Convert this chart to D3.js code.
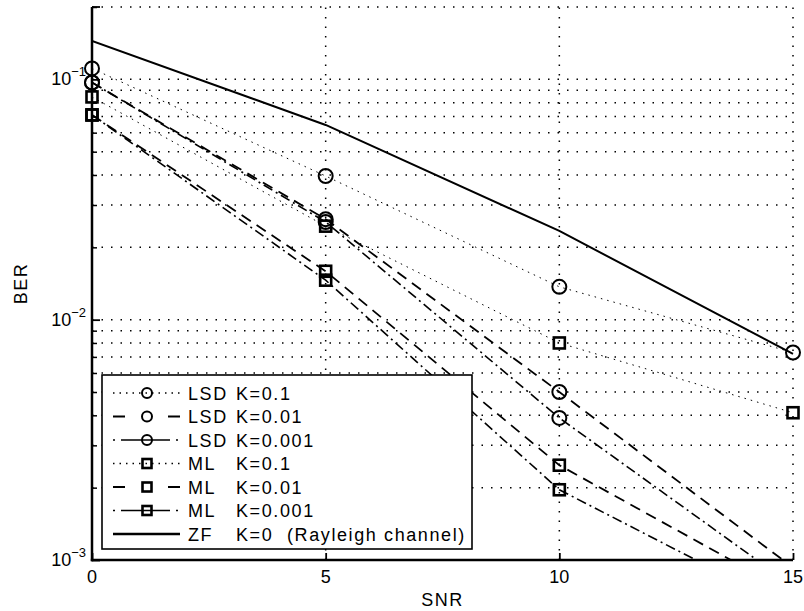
<!DOCTYPE html>
<html>
<head>
<meta charset="utf-8">
<script src="https://cdn.jsdelivr.net/npm/d3@7"></script>
<style>
  body { margin: 0; background: #fff; }
  text { font-family: "Liberation Sans", Arial, Helvetica, sans-serif; fill: #000; }
</style>
</head>
<body>
<svg id="chart" width="804" height="611"></svg>
<script>
// data
let snr = [0, 5, 10, 15];
let lsd_k01 = [0.111, 0.0396, 0.0137, 0.0073];
let lsd_k001 = [0.097, 0.0262, 0.0050, 0.00093];
let lsd_k0001 = [0.097, 0.0255, 0.0039, 0.00078];
let ml_k01 = [0.0845, 0.0245, 0.0080, 0.0041];
let ml_k001 = [0.0711, 0.0159, 0.00248, 0.00072];
let ml_k0001 = [0.0711, 0.0146, 0.00196, 0.00062];
let zf_k0 = [0.1445, 0.0646, 0.0234, 0.0072];

let legend_names = ["LSD", "LSD", "LSD", "ML", "ML", "ML", "ZF"];
let legend_k = ["K=0.1", "K=0.01", "K=0.001", "K=0.1", "K=0.01", "K=0.001", "K=0"];
let x_ticks = [0, 5, 10, 15];
let y_major = [1e-3, 1e-2, 1e-1];
let y_exps = ["\u22123", "\u22122", "\u22121"];

let series = [
    {values: lsd_k01, dash: "1.5,5", width: 1, marker: "circle", leg: "1.5,5"},
    {values: lsd_k001, dash: "11,7", width: 1.8, marker: "circle", leg: "12,43"},
    {values: lsd_k0001, dash: "10,4,2,4", width: 1.6, marker: "circle", leg: "2,6,49,6"},
    {values: ml_k01, dash: "1.5,5", width: 1, marker: "square", leg: "1.5,5"},
    {values: ml_k001, dash: "11,7", width: 1.8, marker: "square", leg: "12,43"},
    {values: ml_k0001, dash: "10,4,2,4", width: 1.6, marker: "square", leg: "2,6,49,6"},
    {values: zf_k0, dash: null, width: 2, marker: null, leg: null}
];

let plot_left = 92, plot_right = 793, plot_top = 7, plot_bottom = 560;
let svg = d3.select("#chart");

let x = d3.scaleLinear().domain([0, 15]).range([plot_left, plot_right]);
let y = d3.scaleLog().domain([1e-3, 0.2]).range([plot_bottom, plot_top]);

// minor log values for grid + ticks
let y_minor = [];
[1e-3, 1e-2, 1e-1].forEach(function (d) {
    for (let m = 2; m <= 9; m++) {
        let v = +(d * m).toPrecision(3);
        if (v <= 0.2) y_minor.push(v);
    }
});

// grid
let grid = svg.append("g")
    .attr("stroke", "#000")
    .attr("stroke-width", 1.5)
    .attr("stroke-dasharray", "1.5,8");
grid.selectAll(".hg").data(y_major.concat(y_minor)).enter()
    .append("line")
    .attr("x1", plot_left).attr("x2", plot_right)
    .attr("y1", d => y(d)).attr("y2", d => y(d));
grid.selectAll(".vg").data(x_ticks.slice(1)).enter()
    .append("line")
    .attr("x1", d => x(d)).attr("x2", d => x(d))
    .attr("y1", plot_bottom).attr("y2", plot_top);

// clip for lines
svg.append("clipPath").attr("id", "plotclip")
    .append("rect").attr("x", plot_left).attr("y", plot_top - 2)
    .attr("width", plot_right - plot_left + 2).attr("height", plot_bottom - plot_top + 2);

let line = d3.line()
    .x((d, i) => x(snr[i]))
    .y(d => y(d));

let plot = svg.append("g");
plot.selectAll("path.series").data(series).enter()
    .append("path")
    .attr("class", "series")
    .attr("clip-path", "url(#plotclip)")
    .attr("d", d => line(d.values))
    .attr("fill", "none")
    .attr("stroke", "#000")
    .attr("stroke-width", d => d.width)
    .attr("stroke-dasharray", d => d.dash);

function drawMarker(g, type, cx, cy, big) {
    if (type === "circle") {
        g.append("circle").attr("cx", cx).attr("cy", cy)
            .attr("r", big ? 7 : 5)
            .attr("fill", "none").attr("stroke", "#000").attr("stroke-width", 2);
    } else if (type === "square") {
        let s = big ? 11 : 9;
        g.append("rect").attr("x", cx - s / 2).attr("y", cy - s / 2)
            .attr("width", s).attr("height", s)
            .attr("fill", "none").attr("stroke", "#000").attr("stroke-width", 2.6);
    }
}

let marks = svg.append("g");
series.forEach(function (s) {
    if (!s.marker) return;
    s.values.forEach(function (v, i) {
        if (v < 1e-3) return;
        drawMarker(marks, s.marker, x(snr[i]), y(v), true);
    });
});

// axes (box off, ticks inward)
let axes = svg.append("g");
axes.append("g")
    .attr("transform", `translate(${plot_left},0)`)
    .call(d3.axisLeft(y).tickValues(y_minor).tickSize(-5).tickFormat(""))
    .call(g => g.select(".domain").remove())
    .selectAll("line").attr("stroke-width", 1.5);
axes.append("g")
    .attr("transform", `translate(${plot_left},0)`)
    .call(d3.axisLeft(y).tickValues(y_major).tickSize(-8).tickFormat(""))
    .call(g => g.select(".domain").remove())
    .selectAll("line").attr("stroke-width", 1.8);
axes.append("g")
    .attr("transform", `translate(0,${plot_bottom})`)
    .call(d3.axisBottom(x).tickValues(x_ticks).tickSize(-7).tickFormat(""))
    .call(g => g.select(".domain").remove())
    .selectAll("line").attr("stroke-width", 1.8);
axes.append("line")
    .attr("x1", plot_left).attr("x2", plot_left).attr("y1", plot_top).attr("y2", plot_bottom + 1.2)
    .attr("stroke", "#000").attr("stroke-width", 2.5);
axes.append("line")
    .attr("x1", plot_left - 1.2).attr("x2", plot_right).attr("y1", plot_bottom).attr("y2", plot_bottom)
    .attr("stroke", "#000").attr("stroke-width", 2.5);
axes.append("line")
    .attr("x1", plot_left).attr("x2", plot_left + 8).attr("y1", plot_top).attr("y2", plot_top)
    .attr("stroke", "#000").attr("stroke-width", 1.8);

// y tick labels 10^n
y_major.forEach(function (v, i) {
    let t = svg.append("text")
        .attr("x", 86).attr("y", y(v) + 6)
        .style("text-anchor", "end")
        .style("font-size", "18px");
    t.append("tspan").text("10");
    t.append("tspan").attr("dy", -9).style("font-size", "13px").text(y_exps[i]);
});

// x tick labels
svg.selectAll(".xl").data(x_ticks).enter()
    .append("text")
    .attr("x", d => x(d)).attr("y", 583)
    .style("text-anchor", "middle")
    .style("font-size", "18px")
    .text(d => d);

// axis titles
svg.append("text")
    .attr("x", (plot_left + plot_right) / 2).attr("y", 606)
    .style("text-anchor", "middle")
    .style("font-size", "18px")
    .style("letter-spacing", "1.5px")
    .text("SNR");
svg.append("text")
    .attr("transform", `translate(27,${(plot_top + plot_bottom) / 2}) rotate(-90)`)
    .style("text-anchor", "middle")
    .style("font-size", "18px")
    .style("letter-spacing", "1.5px")
    .text("BER");

// legend
let legend = svg.append("g");
legend.append("rect")
    .attr("x", 102).attr("y", 375)
    .attr("width", 370).attr("height", 174)
    .attr("fill", "#fff").attr("stroke", "#000").attr("stroke-width", 1.6);

series.forEach(function (s, i) {
    let ly = 393 + i * 23.5;
    legend.append("line")
        .attr("x1", 113).attr("x2", 180).attr("y1", ly).attr("y2", ly)
        .attr("stroke", "#000")
        .attr("stroke-width", s.leg ? Math.max(s.width, 1.3) : 2.4)
        .attr("stroke-dasharray", s.leg);
    if (s.marker) drawMarker(legend, s.marker, 147, ly, false);
    legend.append("text")
        .attr("x", 188).attr("y", ly + 6.5)
        .style("font-size", "18px").style("letter-spacing", "1.6px")
        .text(legend_names[i]);
    legend.append("text")
        .attr("x", 236).attr("y", ly + 6.5)
        .style("font-size", "18px").style("letter-spacing", "1.6px")
        .text(legend_k[i]);
});
legend.append("text")
    .attr("x", 287).attr("y", 393 + 6 * 23.5 + 6.5)
    .style("font-size", "18px").style("letter-spacing", "1.6px")
    .text("(Rayleigh channel)");
</script>
</body>
</html>
